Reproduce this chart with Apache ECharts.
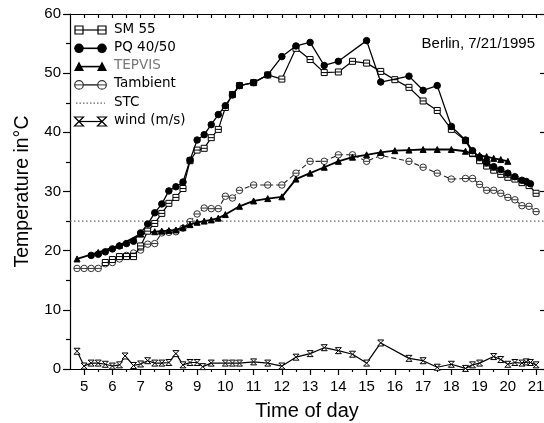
<!DOCTYPE html>
<html>
<head>
<meta charset="utf-8">
<script src="https://cdn.jsdelivr.net/npm/echarts@6/dist/echarts.min.js"></script>
<style>html,body{margin:0;padding:0;background:#fff}#c{width:544px;height:423px}</style>
</head>
<body>
<div id="c"></div>
<script>
// ---- data ----
const hourTicks = [5,6,7,8,9,10,11,12,13,14,15,16,17,18,19,20,21];
const halfTicks = [5.5,6.5,7.5,8.5,9.5,10.5,11.5,12.5,13.5,14.5,15.5,16.5,17.5,18.5,19.5,20.5];
const topTicks = [5,5.5,6,6.5,7,7.5,8,8.5,9,9.5,10,10.5,11,11.5,12,12.5,13,13.5,14,14.5,15,15.5,16,16.5,17,17.5,18,18.5,19,19.5,20,20.5,21];

const sm55Time = [5.75,6,6.25,6.5,6.75,7,7.25,7.5,7.75,8,8.25,8.5,8.75,9,9.25,9.5,9.75,10,10.25,10.5,11,11.5,12,12.5,13,13.5,14,14.5,15,15.5,16,16.5,17,17.5,18,18.5,18.75,19,19.25,19.5,19.75,20,20.25,20.5,20.75,21];
const sm55Temp = [18.0,18.5,19.0,19.0,19.0,20.8,23.3,24.6,26.3,28.0,29.0,30.5,35.2,37.0,37.3,39.1,40.5,44.2,46.4,47.9,48.4,49.7,49.0,54.2,52.3,50.1,50.2,52.0,51.7,50.3,48.9,47.6,45.3,43.7,40.5,38.6,36.5,35.2,34.3,33.6,32.9,32.4,32.1,31.5,31.0,29.7];

const pqTime = [5.25,5.5,5.75,6,6.25,6.5,6.75,7,7.25,7.5,7.75,8,8.25,8.5,8.75,9,9.25,9.5,9.75,10,10.25,10.5,11,11.5,12,12.5,13,13.5,14,15,15.5,16.5,17,17.5,18,18.5,18.75,19,19.25,19.5,19.75,20,20.25,20.5,20.65,20.8];
const pqTemp = [19.2,19.4,19.8,20.3,20.8,21.2,21.6,23.0,24.5,26.4,27.9,30.1,30.8,31.6,35.3,38.7,39.6,41.3,43.0,44.5,46.3,47.9,48.4,49.7,52.8,54.6,55.2,51.3,52.0,55.5,48.5,49.5,47.1,47.9,41.0,38.7,36.9,35.8,34.9,34.2,33.7,33.1,32.5,31.9,31.7,31.3];

const tepvisTime = [4.75,5.5,6.25,7,7.5,7.75,8,8.25,8.5,8.75,9,9.25,9.5,9.75,10,10.5,11,11.5,12,12.5,13,13.5,14,14.5,15,15.5,16,16.5,17,17.5,18,18.5,18.75,19,19.25,19.5,19.75,20];
const tepvisTemp = [18.6,19.7,20.9,22.8,23.2,23.3,23.4,23.5,23.9,24.4,24.8,25.0,25.2,25.5,26.1,27.5,28.4,28.8,29.1,32.1,33.1,34.1,35.1,35.8,36.2,36.6,36.9,37.0,37.1,37.1,37.1,36.8,36.4,36.1,35.9,35.6,35.4,35.1];

const ambTime = [4.75,5,5.25,5.5,5.75,6,6.25,6.5,6.75,7,7.25,7.5,7.75,8,8.25,8.5,8.75,9,9.25,9.5,9.75,10,10.25,10.5,11,11.5,12,12.5,13,13.5,14,14.5,15,15.5,16.5,17,17.5,18,18.5,18.75,19,19.25,19.5,19.75,20,20.25,20.5,20.75,21];
const ambTemp = [17.0,17.0,17.0,17.0,17.8,18.0,18.6,19.2,19.6,20.1,21.1,21.2,23.0,23.1,23.2,23.8,24.9,26.2,27.2,27.1,27.1,29.2,28.9,30.2,31.1,31.1,31.1,33.1,35.1,35.1,36.2,36.2,35.1,36.1,35.1,34.1,33.1,32.1,32.2,32.2,31.2,30.2,30.2,29.7,29.0,28.6,27.6,27.5,26.6];

const stcValue = 25;
const stcRange = [4.5, 21.3];

const windTime = [4.75,5,5.25,5.5,5.75,6,6.25,6.45,6.75,7,7.25,7.5,7.75,8,8.25,8.5,8.75,9,9.2,9.5,10,10.25,10.5,11,11.5,12,12.5,13,13.5,14,14.5,15,15.5,16.5,17,17.5,18,18.5,18.75,19,19.5,19.75,20,20.25,20.5,20.65,20.8,21];
const windSpeed = [3.0,0.5,1.0,1.0,0.8,0.5,0.7,2.2,0.6,0.85,1.4,1.0,1.0,1.1,2.6,0.7,1.1,1.1,0.4,1.0,1.0,1.0,1.0,1.2,1.0,0.5,2.0,2.6,3.6,3.1,2.5,1.0,4.4,1.8,1.4,0.3,0.8,0.1,0.7,1.0,2.1,1.6,0.8,1.1,1.0,1.2,1.1,0.7];

const legendNames = ['SM 55','PQ 40/50','TEPVIS','Tambient','STC','wind (m/s)'];

// ---- build ----
const pairs = (xs, ys) => xs.map((x, i) => [x, ys[i]]);
const SQ = 'path://M0,0H10V10H0ZM0,5H10';
const OC = 'path://M0,5A5,5,0,1,1,10,5A5,5,0,1,1,0,5ZM0,5H10';
const HG = 'path://M0,0H10L0,10H10Z';

const chart = echarts.init(document.getElementById('c'), null, {renderer: 'canvas'});
const FONT = 'Liberation Sans, Arial, sans-serif';

// legend built as graphics
const lx1 = 79, lx2 = 102, ly0 = 30, ldy = 18.3;
const g = [];
legendNames.forEach((name, i) => {
  const y = ly0 + i * ldy;
  g.push({type: 'text', left: 114, top: y - 8, style: {text: name, font: '13.5px "DejaVu Sans"', fill: i === 2 ? '#777' : '#000'}});
  if (i === 4) {
    g.push({type: 'line', shape: {x1: lx1 - 3, y1: y, x2: lx2 + 3, y2: y}, style: {stroke: '#666', lineWidth: 1.2, lineDash: [1.5, 2]}});
    return;
  }
  g.push({type: 'line', shape: {x1: lx1, y1: y, x2: lx2, y2: y}, style: {stroke: '#000', lineWidth: i === 1 || i === 2 ? 1.6 : 1.2}});
  [lx1, lx2].forEach(cx => {
    if (i === 0) {
      g.push({type: 'rect', shape: {x: cx - 4, y: y - 4, width: 8, height: 8}, style: {fill: '#fff', stroke: '#000', lineWidth: 1.2}});
      g.push({type: 'line', shape: {x1: cx - 4, y1: y, x2: cx + 4, y2: y}, style: {stroke: '#000', lineWidth: 1}});
    } else if (i === 1) {
      g.push({type: 'circle', shape: {cx: cx, cy: y, r: 4.8}, style: {fill: '#000'}});
    } else if (i === 2) {
      g.push({type: 'polygon', shape: {points: [[cx - 5, y + 4.5], [cx + 5, y + 4.5], [cx, y - 5]]}, style: {fill: '#000'}});
    } else if (i === 3) {
      g.push({type: 'circle', shape: {cx: cx, cy: y, r: 4.3}, style: {fill: '#fff', stroke: '#333', lineWidth: 1.2}});
      g.push({type: 'line', shape: {x1: cx - 4.3, y1: y, x2: cx + 4.3, y2: y}, style: {stroke: '#333', lineWidth: 1}});
    } else if (i === 5) {
      g.push({type: 'polygon', shape: {points: [[cx - 4.5, y - 4.5], [cx + 4.5, y - 4.5], [cx - 4.5, y + 4.5], [cx + 4.5, y + 4.5]]}, style: {fill: '#fff', stroke: '#000', lineWidth: 1.2}});
    }
  });
});

const baseLine = (name, data, extra) => Object.assign({
  name, type: 'line', data, xAxisIndex: 0, yAxisIndex: 0,
  symbolSize: 6, silent: true, animation: false,
  lineStyle: {color: '#000', width: 1.2},
  itemStyle: {color: '#000', borderColor: '#000', borderWidth: 1},
  emphasis: {disabled: true}
}, extra);

const option = {
  animation: false,
  backgroundColor: '#fff',
  title: {text: 'Berlin, 7/21/1995', right: 4, top: 31, textStyle: {fontFamily: FONT, fontSize: 15, fontWeight: 'normal', color: '#000'}},
  grid: {left: 70, right: 0, top: 14, bottom: 54, containLabel: false, outerBoundsMode: 'none'},
  xAxis: [
    {type: 'value', position: 'bottom', min: 4.5, max: 21.28,
     name: 'Time of day', nameLocation: 'middle', nameGap: 32,
     nameTextStyle: {fontFamily: FONT, fontSize: 20, color: '#000'},
     axisLine: {show: true, lineStyle: {color: '#000', width: 1.2}},
     axisTick: {show: true, length: 6, customValues: hourTicks, lineStyle: {color: '#000', width: 1.2}},
     axisLabel: {show: true, customValues: hourTicks, margin: 10, fontFamily: FONT, fontSize: 15, color: '#000'},
     splitLine: {show: false}},
    {type: 'value', position: 'bottom', min: 4.5, max: 21.28,
     axisLine: {show: false},
     axisTick: {show: true, length: 3, customValues: halfTicks, lineStyle: {color: '#000', width: 1.2}},
     axisLabel: {show: false}, splitLine: {show: false}},
    {type: 'value', position: 'top', min: 4.5, max: 21.28,
     axisLine: {show: true, lineStyle: {color: '#000', width: 1.2}},
     axisTick: {show: true, inside: true, length: 4, customValues: topTicks, lineStyle: {color: '#000', width: 1.2}},
     axisLabel: {show: false}, splitLine: {show: false}}
  ],
  yAxis: [
    {type: 'value', position: 'left', min: 0, max: 60, interval: 10,
     name: 'Temperature in°C', nameLocation: 'middle', nameGap: 37, nameRotate: 90,
     nameTextStyle: {fontFamily: FONT, fontSize: 19.5, color: '#000'},
     axisLine: {show: true, lineStyle: {color: '#000', width: 1.2}},
     axisTick: {show: true, length: 7, lineStyle: {color: '#000', width: 1.2}},
     minorTick: {show: true, splitNumber: 2, length: 4, lineStyle: {color: '#000', width: 1.2}},
     axisLabel: {margin: 9, fontFamily: FONT, fontSize: 15, color: '#000'},
     splitLine: {show: false}},
    {type: 'value', position: 'right', min: 0, max: 60, interval: 10,
     axisLine: {show: false},
     axisTick: {show: true, inside: true, length: 4, lineStyle: {color: '#000', width: 1.2}},
     axisLabel: {show: false}, splitLine: {show: false}}
  ],
  graphic: g,
  series: [
    baseLine('STC', pairs(stcRange, stcRange.map(() => stcValue)), {
      symbol: 'none', lineStyle: {color: '#666', width: 1.2, type: [1.5, 2.5]}, z: 1}),
    baseLine('wind (m/s)', pairs(windTime, windSpeed), {
      symbol: HG, symbolSize: [6, 6], itemStyle: {color: '#fff', borderColor: '#000', borderWidth: 1}, z: 2}),
    baseLine('Tambient', pairs(ambTime, ambTemp), {
      symbol: OC, symbolSize: 6.5, lineStyle: {color: '#222', width: 1.1, type: [5, 3]},
      itemStyle: {color: '#fff', borderColor: '#333', borderWidth: 1}, z: 3}),
    baseLine('TEPVIS', pairs(tepvisTime, tepvisTemp), {
      symbol: 'triangle', symbolSize: 6, lineStyle: {color: '#000', width: 1.8}, z: 4}),
    baseLine('SM 55', pairs(sm55Time, sm55Temp), {
      symbol: SQ, symbolSize: 6, itemStyle: {color: '#fff', borderColor: '#000', borderWidth: 1}, z: 5}),
    baseLine('PQ 40/50', pairs(pqTime, pqTemp), {
      symbol: 'circle', symbolSize: 6.5, lineStyle: {color: '#000', width: 1.3}, z: 6})
  ]
};
chart.setOption(option);
</script>
</body>
</html>
